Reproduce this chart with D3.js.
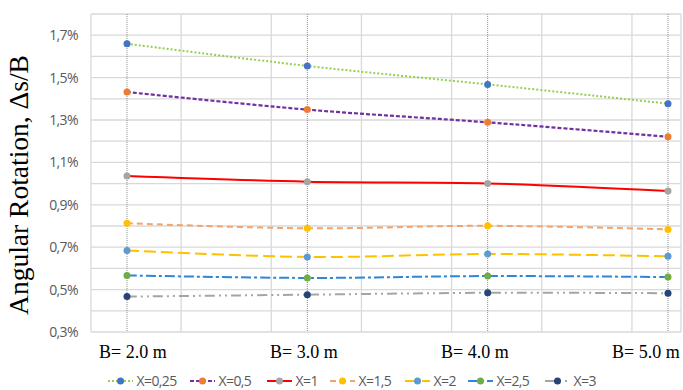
<!DOCTYPE html>
<html>
<head>
<meta charset="utf-8">
<script src="https://cdn.jsdelivr.net/npm/d3@7"></script>
<style>
	body { margin: 0; background: #fff; }
	svg { display: block; }
</style>
</head>
<body>
<div class="chart"></div>
<script>
// footing width B (m) and values per X series (angular rotation, %)
const widths = [2, 3, 4, 5]
const widthLabels = ['B= 2.0 m', 'B= 3.0 m', 'B= 4.0 m', 'B= 5.0 m']
const seriesNames = ['X=0,25', 'X=0,5', 'X=1', 'X=1,5', 'X=2', 'X=2,5', 'X=3']
const x025 = [1.660, 1.555, 1.468, 1.377]
const x05 = [1.432, 1.349, 1.289, 1.221]
const x1 = [1.036, 1.009, 1.001, 0.965]
const x15 = [0.813, 0.789, 0.801, 0.784]
const x2 = [0.685, 0.654, 0.668, 0.657]
const x25 = [0.567, 0.555, 0.564, 0.559]
const x3 = [0.467, 0.476, 0.485, 0.483]
const yTicks = [0.3, 0.5, 0.7, 0.9, 1.1, 1.3, 1.5, 1.7]

const seriesValues = [x025, x05, x1, x15, x2, x25, x3]
const styles = [
	{line: '#92d050', marker: '#4472c4', dash: '2,2', w: 2},
	{line: '#7030a0', marker: '#ed7d31', dash: '4,2', w: 2.2},
	{line: '#ff0000', marker: '#a5a5a5', dash: null, w: 2},
	{line: '#f4a46a', marker: '#ffc000', dash: '6,4', w: 2},
	{line: '#ffc000', marker: '#5b9bd5', dash: '12,5', w: 2},
	{line: '#2e86d6', marker: '#70ad47', dash: '10,3,3,3', w: 2},
	{line: '#a5a5a5', marker: '#264478', dash: '10,4,2,4,2,4', w: 2},
]
const series = seriesNames.map((name, i) => ({
	name: name,
	style: styles[i],
	points: widths.map((b, j) => ({b: b, v: seriesValues[i][j]}))
}))

const width = 683
const height = 390
const svg = d3.select('.chart')
	.append('svg')
	.attr('width', width)
	.attr('height', height)
	.attr('viewBox', [0, 0, width, height])

const x = d3.scaleLinear().domain([2, 5]).range([127, 668])
const y = d3.scaleLinear().domain([0.3, 1.8]).range([332, 14])
const left = x(1.8), right = 681

// horizontal gridlines every 0.1%
svg.append('g')
	.selectAll('line')
	.data(d3.range(3, 19).map(d => d / 10))
	.enter()
	.append('line')
	.attr('x1', left)
	.attr('x2', right)
	.attr('y1', d => y(d))
	.attr('y2', d => y(d))
	.attr('stroke', '#d9d9d9')
	.attr('stroke-width', 1.3)

// vertical gridlines every 0.5 m
svg.append('g')
	.selectAll('line')
	.data(d3.range(0, 7).map(k => 1.8 + 0.5 * k))
	.enter()
	.append('line')
	.attr('x1', d => x(d))
	.attr('x2', d => x(d))
	.attr('y1', y(1.8))
	.attr('y2', y(0.3))
	.attr('stroke', '#d9d9d9')
	.attr('stroke-width', 1.3)

svg.append('line')
	.attr('x1', right).attr('x2', right)
	.attr('y1', y(1.8)).attr('y2', y(0.3))
	.attr('stroke', '#d9d9d9')
	.attr('stroke-width', 1.3)

// dotted lines at each B
svg.append('g')
	.selectAll('line')
	.data(widths)
	.enter()
	.append('line')
	.attr('x1', d => x(d))
	.attr('x2', d => x(d))
	.attr('y1', y(1.8))
	.attr('y2', y(0.3))
	.attr('stroke', '#8c8c8c')
	.attr('stroke-width', 1)
	.attr('stroke-dasharray', '1,1')

// y tick labels
svg.append('g')
	.selectAll('text')
	.data(yTicks)
	.enter()
	.append('text')
	.text(d => d3.format('.1f')(d).replace('.', ',') + '%')
	.attr('x', 78)
	.attr('y', d => y(d) + 5)
	.attr('text-anchor', 'end')
	.attr('font-family', 'Open Sans, sans-serif')
	.attr('font-size', '14px')
	.attr('letter-spacing', '-0.6px')
	.attr('fill', '#595959')

// x labels
const labelX = d3.scalePoint().domain(widthLabels).range([99, 612])
svg.append('g')
	.selectAll('text')
	.data(widthLabels)
	.enter()
	.append('text')
	.text(d => d)
	.attr('x', d => labelX(d))
	.attr('y', 358)
	.attr('font-family', 'Liberation Serif, Times New Roman, serif')
	.attr('font-size', '18px')
	.attr('fill', '#000')

// y axis title
svg.append('text')
	.text('Angular Rotation, Δs/B')
	.attr('transform', 'translate(28,185) rotate(-90)')
	.attr('text-anchor', 'middle')
	.attr('font-family', 'Liberation Serif, Times New Roman, serif')
	.attr('font-size', '27.5px')
	.attr('fill', '#000')

// lines
const line = d3.line()
	.x(d => x(d.b))
	.y(d => y(d.v))
	.curve(d3.curveCatmullRom.alpha(0.5))

svg.append('g')
	.selectAll('path')
	.data(series)
	.enter()
	.append('path')
	.attr('d', d => line(d.points))
	.attr('fill', 'none')
	.attr('stroke', d => d.style.line)
	.attr('stroke-width', d => d.style.w)
	.attr('stroke-dasharray', d => d.style.dash)

// markers
svg.append('g')
	.selectAll('g')
	.data(series)
	.enter()
	.append('g')
	.attr('fill', d => d.style.marker)
	.selectAll('circle')
	.data(d => d.points)
	.enter()
	.append('circle')
	.attr('cx', d => x(d.b))
	.attr('cy', d => y(d.v))
	.attr('r', 3.5)

// legend
const legendX = [108, 190, 267, 330, 405, 468, 545]
const legend = svg.append('g')
	.selectAll('g')
	.data(series)
	.enter()
	.append('g')
	.attr('transform', (d, i) => 'translate(' + legendX[i] + ',381)')

legend.append('line')
	.attr('x1', 0)
	.attr('x2', 25)
	.attr('stroke', d => d.style.line)
	.attr('stroke-width', d => d.style.w)
	.attr('stroke-dasharray', d => d.style.dash)

legend.append('circle')
	.attr('cx', 12.5)
	.attr('r', 3.5)
	.attr('fill', d => d.style.marker)

legend.append('text')
	.text(d => d.name)
	.attr('x', 28.5)
	.attr('y', 5)
	.attr('font-family', 'Open Sans, sans-serif')
	.attr('font-size', '14px')
	.attr('letter-spacing', '-0.6px')
	.attr('fill', '#595959')
</script>
</body>
</html>
